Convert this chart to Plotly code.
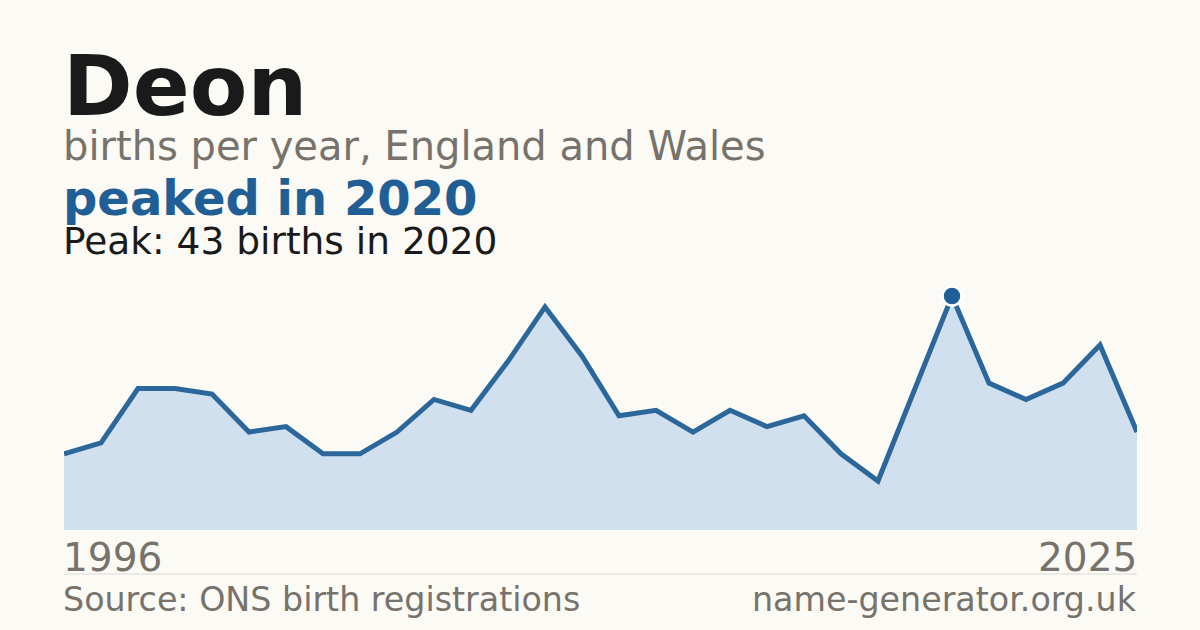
import plotly.graph_objects as go

# births per year for "Deon"
years = list(range(1996, 2026))
births = [14, 16, 26, 26, 25, 18, 19, 14, 14, 18,
          24, 22, 31, 41, 32, 21, 22, 18, 22, 19,
          21, 14, 9, 26, 43, 27, 24, 27, 34, 18]

name = "Deon"
subtitle = "births per year, England and Wales"
headline = "peaked in 2020"
source = "Source: ONS birth registrations"
site = "name-generator.org.uk"

BG = "#fbfaf5"
BLUE = "#1f5f96"
LINE = "#2b679b"
FILL = "#d0e0ef"
GREY = "#77726b"
INK = "#1a1a1a"
FONT = "DejaVu Sans"

W, H = 1200, 630
PLOT_TOP, PLOT_BOTTOM = 280, 530
PX_PER_BIRTH = 5.44


def py(y_px):
    """pixel row -> paper y"""
    return (PLOT_BOTTOM - y_px) / (PLOT_BOTTOM - PLOT_TOP)


peak_i = max(range(len(births)), key=lambda i: births[i])
peak_year, peak_val = years[peak_i], births[peak_i]

fig = go.Figure()
fig.add_trace(go.Scatter(
    x=years, y=births, mode="lines", fill="tozeroy",
    fillcolor=FILL, line=dict(color=LINE, width=5),
    hoverinfo="skip", showlegend=False,
))
fig.add_trace(go.Scatter(
    x=[peak_year], y=[peak_val], mode="markers",
    marker=dict(color=BLUE, size=19, line=dict(color="white", width=2.5)),
    hoverinfo="skip", showlegend=False, cliponaxis=False,
))


def label(text, x, baseline, size, color, bold=False, anchor="left"):
    # centre of the text box sits ~0.346em above the baseline for DejaVu
    fig.add_annotation(
        text=f"<b>{text}</b>" if bold else text,
        xref="paper", yref="paper", x=x, y=py(baseline - 0.346 * size + 2),
        xanchor=anchor, yanchor="middle", showarrow=False,
        xshift=-3 if anchor == "left" else 2,
        font=dict(family=FONT, size=size, color=color),
    )


label(name, 0, 113, 84, INK, bold=True)
label(subtitle, 0, 158, 40, GREY)
label(headline, 0, 213, 48, BLUE, bold=True)
label(f"Peak: {peak_val} births in {peak_year}", 0, 252, 37.5, INK)
label(str(years[0]), 0, 569, 39, GREY)
label(str(years[-1]), 1, 569, 39, GREY, anchor="right")
label(source, 0, 609, 33.3, GREY)
label(site, 1, 609, 33.3, GREY, anchor="right")

fig.add_shape(type="line", xref="paper", yref="paper",
              x0=0, x1=1, y0=py(574), y1=py(574),
              line=dict(color="#dddad3", width=1))

fig.update_layout(
    width=W, height=H,
    margin=dict(l=64, r=W - 1137, t=PLOT_TOP, b=H - PLOT_BOTTOM),
    paper_bgcolor=BG, plot_bgcolor=BG,
    xaxis=dict(range=[years[0], years[-1]], visible=False, fixedrange=True),
    yaxis=dict(range=[0, (PLOT_BOTTOM - PLOT_TOP) / PX_PER_BIRTH],
               visible=False, fixedrange=True),
)

fig.write_html("out.html", config={"displayModeBar": False},
               post_script="document.body.style.margin='0';")
